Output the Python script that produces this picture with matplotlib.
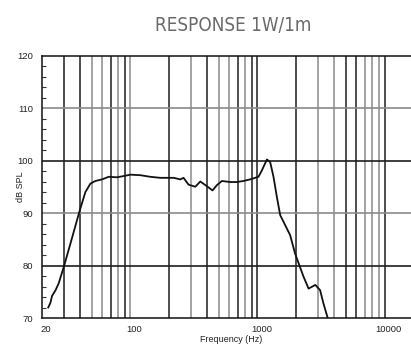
import numpy as np
import matplotlib
matplotlib.use("Agg")
import matplotlib.pyplot as plt
from matplotlib.transforms import ScaledTranslation
from matplotlib import font_manager

# ---- data ----
freq_hz = [22.6, 23.5, 24.2, 25.8, 27.3, 30.0, 33.8, 40.0, 44.3, 48.5, 53.1, 59.9,
           67.6, 78.6, 91.3, 100, 120, 143, 172, 219, 247, 262, 287, 324, 355,
           400, 443, 479, 525, 610, 688, 776, 875, 1018, 1082, 1186, 1258, 1336,
           1419, 1508, 1650, 1805, 1974, 2299, 2522, 2850, 3108, 3299, 3567]
spl_db = [72.0, 72.9, 74.2, 75.3, 76.6, 79.8, 84.2, 90.5, 94.0, 95.6, 96.1, 96.4,
          96.9, 96.8, 97.1, 97.3, 97.2, 96.9, 96.7, 96.7, 96.4, 96.7, 95.4, 95.0, 96.0,
          95.1, 94.3, 95.3, 96.1, 95.9, 95.9, 96.1, 96.4, 96.9, 98.1, 100.2, 99.7, 96.9,
          93.1, 89.6, 87.7, 85.8, 82.3, 77.9, 75.6, 76.3, 75.3, 72.8, 70.0]

x_ticks = [20, 100, 1000, 10000]
x_tick_labels = ["20", "100", "1000", "10000"]
y_ticks = [70, 80, 90, 100, 110, 120]
v_grid = [30, 40, 50, 60, 70, 80, 90, 100,
          200, 300, 400, 500, 600, 700, 800, 900, 1000,
          2000, 3000, 4000, 5000, 6000, 7000, 8000, 9000, 10000]
h_grid = [80, 90, 100, 110]

title = "RESPONSE 1W/1m"
xlabel = "Frequency (Hz)"
ylabel = "dB SPL"

# ---- style ----
DARK = "#1e1e1e"
GRAY = "#8a8a8a"
v_shade = [DARK, DARK, GRAY, GRAY, DARK, GRAY, DARK, GRAY,
           DARK, GRAY, DARK, GRAY, GRAY, DARK, GRAY, DARK, DARK,
           DARK, GRAY, GRAY, DARK, DARK, GRAY, GRAY, GRAY, DARK]
h_shade = [DARK, GRAY, DARK, GRAY]

W, H = 411, 344
fig = plt.figure(figsize=(W / 100, H / 100), dpi=100)
left_px, right_px, top_px, bot_px = 41.5, 411, 55.5, 318
ax = fig.add_axes([left_px / W, 1 - bot_px / H, (right_px - left_px) / W, (bot_px - top_px) / H])

xmax = 10 ** (2 + (right_px - 130) / 127.3)
ax.set_xscale("log")
ax.set_xlim(20, xmax)
ax.set_ylim(70, 120)

for f, c in zip(v_grid, v_shade):
    ax.axvline(f, color=c, lw=1.1, zorder=1)
for d, c in zip(h_grid, h_shade):
    ax.axhline(d, color=c, lw=1.2, zorder=1)

ax.plot(freq_hz, spl_db, color="#111111", lw=1.3, zorder=3, solid_joinstyle="round")

for s in ["left", "bottom", "top"]:
    ax.spines[s].set_color("#111111")
    ax.spines[s].set_linewidth(1.1)
ax.spines["right"].set_visible(False)

font = ["Liberation Sans", "DejaVu Sans"]
ax.set_xticks(x_ticks)
ax.set_xticklabels(x_tick_labels, fontsize=6.8, family=font, color="#222222")
ax.xaxis.set_minor_locator(matplotlib.ticker.NullLocator())
ax.tick_params(axis="x", length=0, pad=5)
offset = ScaledTranslation(3 / 72, 0, fig.dpi_scale_trans)
for lab in ax.get_xticklabels():
    lab.set_transform(lab.get_transform() + offset)

ax.set_yticks(y_ticks)
ax.set_yticklabels([str(v) for v in y_ticks], fontsize=6.8, family=font, color="#222222")
ax.set_yticks(np.arange(70, 121, 2), minor=True)
ax.tick_params(axis="y", which="major", length=0, pad=6)
ax.tick_params(axis="y", which="minor", direction="in", length=3, width=0.8, color="#333333")

fig.text((left_px - 21.5) / W, 1 - 187 / H, ylabel, rotation=90, ha="center", va="center",
         fontsize=6.5, family=font, color="#222222")
fig.text(231 / W, 1 - 340 / H, xlabel, ha="center", va="center",
         fontsize=6.5, family=font, color="#222222")

# condensed face for the title if available
names = {f.name for f in font_manager.fontManager.ttflist}
if "DejaVu Sans Condensed" in names:
    tfam, tstretch, tsize = ["DejaVu Sans Condensed"], "normal", 13.5
else:
    tfam, tstretch, tsize = ["DejaVu Sans", "Liberation Sans"], "condensed", 13.5
fig.text(233 / W, 1 - 25.5 / H, title, ha="center", va="center",
         fontsize=tsize, family=tfam, fontstretch=tstretch, color="#6a6a6a")

fig.savefig("out.png", dpi=100)
